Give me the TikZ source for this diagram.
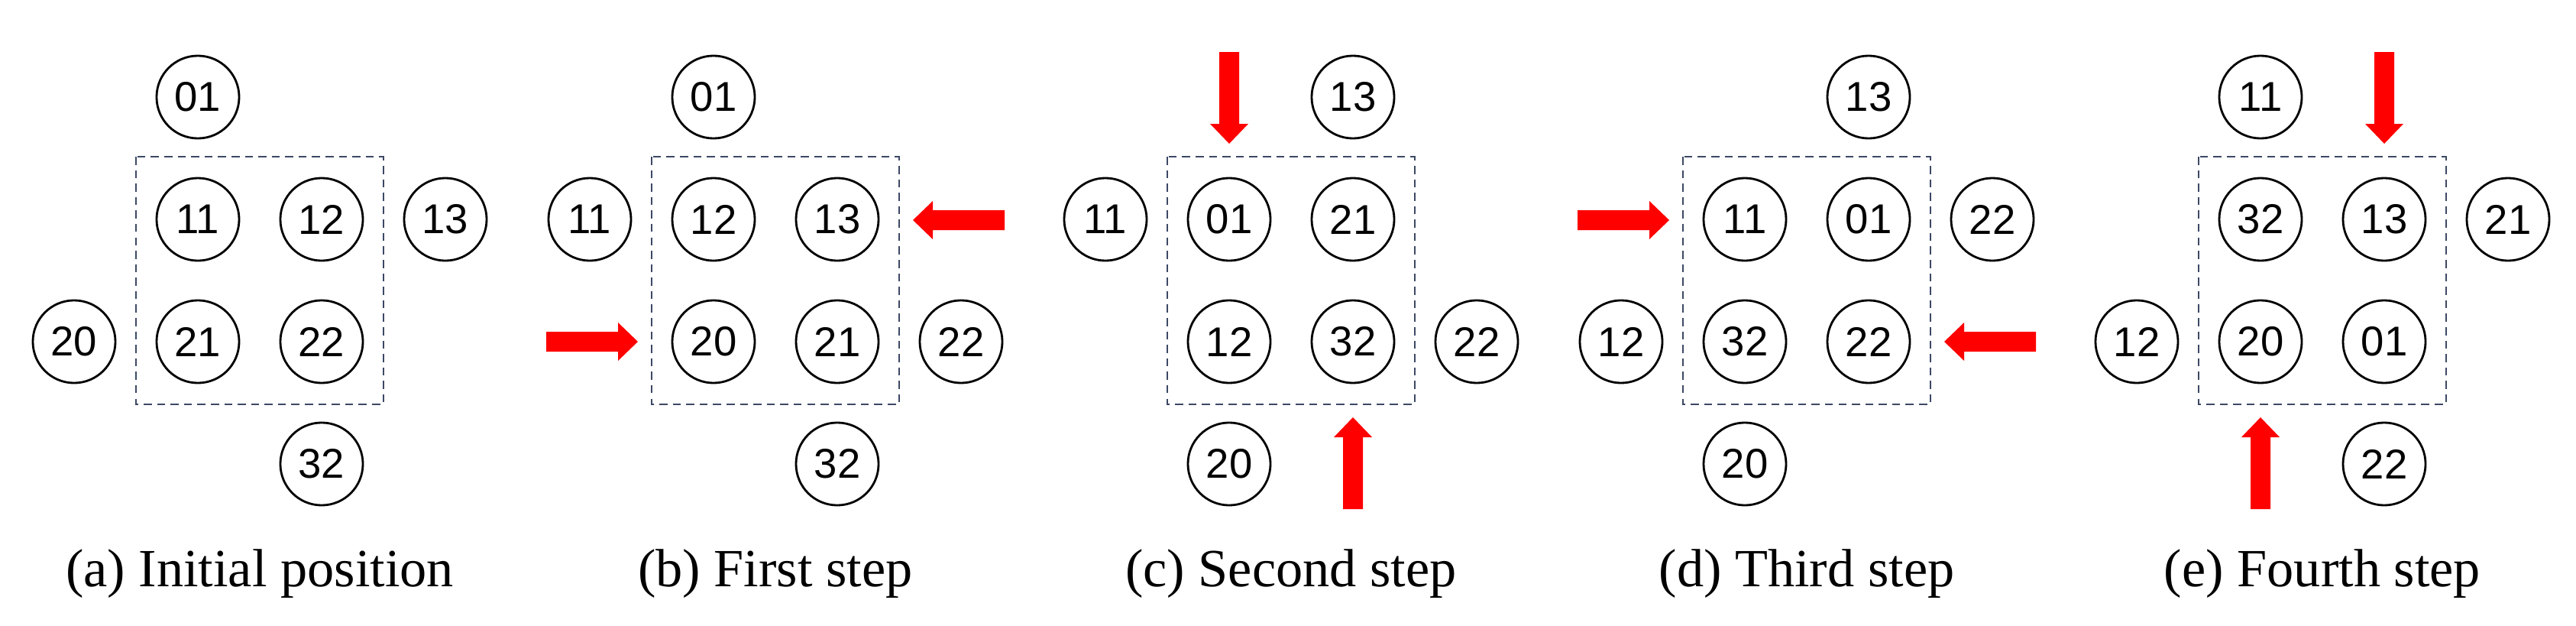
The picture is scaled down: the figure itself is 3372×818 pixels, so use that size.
\documentclass[tikz,border=0pt]{standalone}
\usepackage{fontspec}
\setmainfont{Liberation Serif}
\newfontfamily\numfont{Liberation Sans}
\begin{document}
\begin{tikzpicture}[x=0.01cm,y=-0.01cm,
  cell/.style={circle,draw=black,line width=0.8pt,minimum size=1.08cm,inner sep=0pt,font=\numfont\fontsize{15.5}{16}\selectfont},
  win/.style={draw={rgb,255:red,60;green,72;blue,100},line width=0.8pt,dash pattern=on 3pt off 2pt},
  captxt/.style={font=\fontsize{20}{22}\selectfont,anchor=base},
  redarr/.style={fill=red,draw=none}]
\useasboundingbox (0,0) rectangle (3372,818);
\newcommand\myarrow[4]{%
  \coordinate (#1) at (#2,#3);
  \fill[redarr,shift={(#1)},rotate=#4] (0,0) -- (-26,-25) -- (-26,-13) -- (-120,-13) -- (-120,13) -- (-26,13) -- (-26,25) -- cycle;}
\foreach \p/\cx/\lst/\capt in {
 a/340/{01/-0.5/-1.5,11/-0.5/-0.5,12/0.5/-0.5,13/1.5/-0.5,20/-1.5/0.5,21/-0.5/0.5,22/0.5/0.5,32/0.5/1.5}/{(a) Initial position},
 b/1015/{01/-0.5/-1.5,11/-1.5/-0.5,12/-0.5/-0.5,13/0.5/-0.5,20/-0.5/0.5,21/0.5/0.5,22/1.5/0.5,32/0.5/1.5}/{(b) First step},
 c/1690/{13/0.5/-1.5,11/-1.5/-0.5,01/-0.5/-0.5,21/0.5/-0.5,12/-0.5/0.5,32/0.5/0.5,22/1.5/0.5,20/-0.5/1.5}/{(c) Second step},
 d/2365/{13/0.5/-1.5,11/-0.5/-0.5,01/0.5/-0.5,22/1.5/-0.5,12/-1.5/0.5,32/-0.5/0.5,22/0.5/0.5,20/-0.5/1.5}/{(d) Third step},
 e/3040/{11/-0.5/-1.5,32/-0.5/-0.5,13/0.5/-0.5,21/1.5/-0.5,12/-1.5/0.5,20/-0.5/0.5,01/0.5/0.5,22/0.5/1.5}/{(e) Fourth step}}{
  \draw[win] (\cx-162,205) rectangle (\cx+162,529);
  \foreach \t/\k/\m [count=\i] in \lst
    \node[cell] (\p\i) at (\cx+162*\k,367+160*\m) {\t};
  \node[captxt] (cap\p) at (\cx,767) {\capt};
}
\myarrow{b1}{1015-180}{447}{0}
\myarrow{b2}{1015+180}{288}{180}
\myarrow{c1}{1690-81}{188}{-90}
\myarrow{c2}{1690+81}{546}{90}
\myarrow{d1}{2365-180}{288}{0}
\myarrow{d2}{2365+180}{447}{180}
\myarrow{e1}{3040+81}{188}{-90}
\myarrow{e2}{3040-81}{546}{90}
\end{tikzpicture}
\end{document}
